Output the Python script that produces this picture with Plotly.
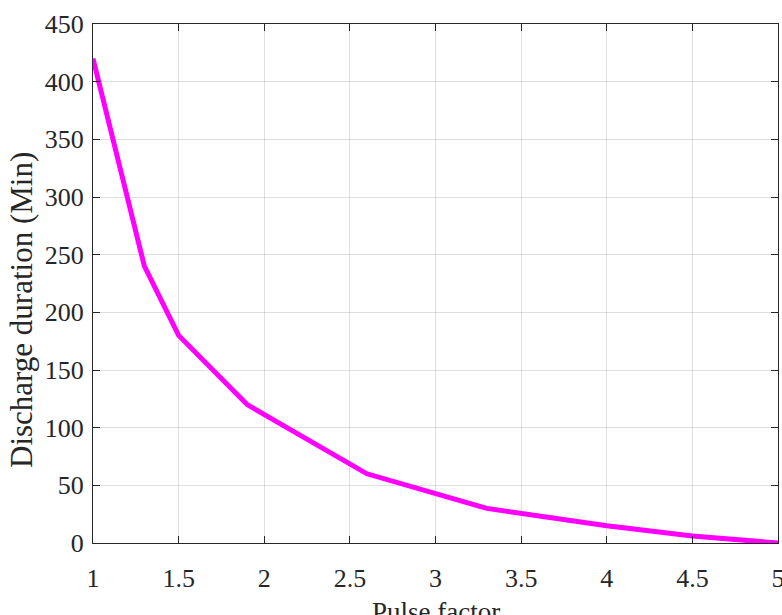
import plotly.graph_objects as go

pulse_factor = [1.0, 1.3, 1.5, 1.9, 2.6, 3.3, 4.0, 4.5, 5.0]
discharge_min = [420, 240, 180, 120, 60, 30, 15, 6, 0]

x_ticks = [1, 1.5, 2, 2.5, 3, 3.5, 4, 4.5, 5]
x_tick_text = ["1", "1.5", "2", "2.5", "3", "3.5", "4", "4.5", "5"]
y_ticks = [0, 50, 100, 150, 200, 250, 300, 350, 400, 450]

font_family = "Liberation Serif, Times New Roman, serif"
ink = "#262626"

fig = go.Figure()
fig.add_trace(go.Scatter(
    x=pulse_factor, y=discharge_min, mode="lines",
    line=dict(color="#FF00FF", width=5), showlegend=False,
))

axis_common = dict(
    showline=True, linecolor=ink, linewidth=1.3, mirror="allticks",
    ticks="inside", ticklen=7, tickwidth=1.3, tickcolor=ink,
    showgrid=True, gridcolor="rgba(38,38,38,0.15)", gridwidth=1,
    zeroline=False, automargin=False, ticklabeloverflow="allow",
    tickfont=dict(family=font_family, size=26, color=ink),
)

fig.update_layout(
    width=782, height=615,
    margin=dict(l=93, r=4, t=24, b=72),
    paper_bgcolor="white", plot_bgcolor="white",
    font=dict(family=font_family, color=ink),
    xaxis=dict(range=[1, 5], tickvals=x_ticks, ticktext=x_tick_text,
               ticklabelstandoff=12, **axis_common),
    yaxis=dict(range=[0, 450], tickvals=y_ticks,
               ticklabelstandoff=3, **axis_common),
    annotations=[
        dict(text="Pulse factor", xref="paper", yref="paper", x=0.5, y=-0.133,
             xanchor="center", yanchor="middle", showarrow=False,
             font=dict(family=font_family, size=27, color=ink)),
        dict(text="Discharge duration (Min)", xref="paper", yref="paper",
             x=-0.1036, y=0.449, xanchor="center", yanchor="middle",
             textangle=-90, showarrow=False,
             font=dict(family=font_family, size=31, color=ink)),
    ],
)

fig.write_html(
    "out.html",
    config={"displayModeBar": False},
    post_script="document.body.style.margin='0';document.body.style.overflow='hidden';",
)
